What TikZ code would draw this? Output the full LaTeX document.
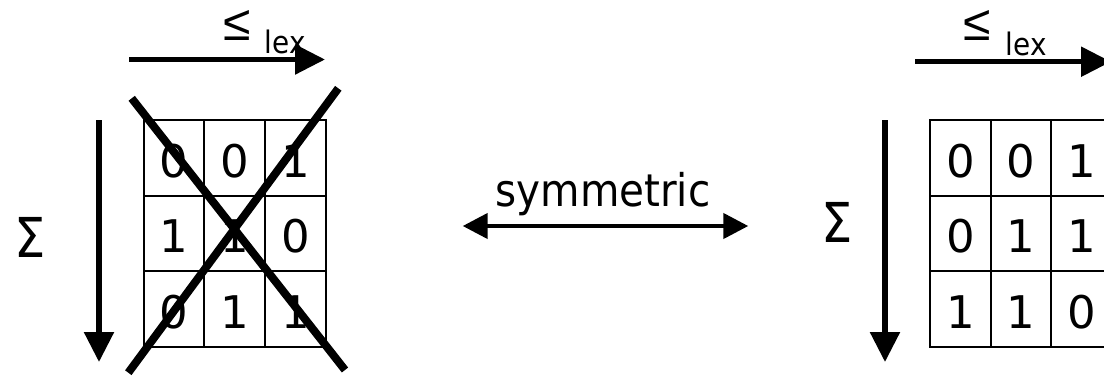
\documentclass[tikz,border=0pt]{standalone}
\usepackage{fontspec}
\setmainfont{DejaVu Sans}
\newfontfamily\narrow{DejaVu Sans}[FakeStretch=0.9]
\newfontfamily\arialish{Liberation Sans}
\usetikzlibrary{arrows.meta}
\tikzset{
  bigarrow/.style={line width=5.5pt, -{Triangle[length=30pt,width=29pt]}},
  symarrow/.style={line width=4.3pt, {Triangle[length=25pt,width=25pt]}-{Triangle[length=25pt,width=25pt]}},
  crossline/.style={line width=8pt},
  cell/.style={draw, line width=2pt, inner sep=0pt, minimum width=60.7pt, minimum height=75.4pt,
    text height=39pt, text depth=0pt, font=\fontsize{45}{54}\selectfont},
  leq/.style={inner sep=0pt, anchor=base, font=\arialish\fontsize{50}{60}\selectfont},
  lex/.style={inner sep=0pt, anchor=base west, font=\narrow\fontsize{31}{37}\selectfont},
  sigma/.style={inner sep=0pt, anchor=base west, font=\narrow\fontsize{55}{66}\selectfont},
  lbl/.style={inner sep=0pt, anchor=base, font=\narrow\fontsize{45}{54}\selectfont},
}
\begin{document}
\begin{tikzpicture}[x=1pt, y=-1pt]
\clip (0,0) rectangle (1104,376);
\fill[white] (0,0) rectangle (1104,376);

% ---------- left matrix ----------
\foreach \r/\a/\b/\c [count=\i] in {0/0/0/1, 1/1/1/0, 2/0/1/1} {
  \node[cell] (L\i1) at (174, 158+75.4*\r) {\a};
  \node[cell] (L\i2) at (234.7, 158+75.4*\r) {\b};
  \node[cell] (L\i3) at (295.4, 158+75.4*\r) {\c};
}
% top arrow and label
\coordinate (LTs) at (129.3,59.5);
\coordinate (LTe) at (325,59.5);
\draw[bigarrow] (LTs) -- (LTe);
\node[leq] (Lleq) at (237,40.5) {≤};
\node[lex] (Llex) at (264.5,53.3) {lex};
% left down arrow and sigma
\coordinate (LDs) at (99,120);
\coordinate (LDe) at (99,362);
\draw[bigarrow] (LDs) -- (LDe);
\node[sigma] (Lsig) at (14,257) {Σ};
% cross
\coordinate (X1a) at (131.7,98.3);
\coordinate (X1b) at (345,370);
\coordinate (X2a) at (338.3,88.3);
\coordinate (X2b) at (128.3,372.7);
\draw[crossline] (X1a) -- (X1b);
\draw[crossline] (X2a) -- (X2b);

% ---------- symmetric arrow ----------
\coordinate (Sa) at (462.7,226);
\coordinate (Sb) at (748.3,226);
\draw[symarrow] (Sa) -- (Sb);
\node[lbl] (sym) at (603,206.7) {symmetric};

% ---------- right matrix ----------
\foreach \r/\a/\b/\c [count=\i] in {0/0/0/1, 1/0/1/1, 2/1/1/0} {
  \node[cell] (R\i1) at (960.5, 158+75.4*\r) {\a};
  \node[cell] (R\i2) at (1021, 158+75.4*\r) {\b};
  \node[cell] (R\i3) at (1081.5, 158+75.4*\r) {\c};
}
\coordinate (RTs) at (915,61.7);
\coordinate (RTe) at (1111,61.7);
\draw[bigarrow] (RTs) -- (RTe);
\node[leq] (Rleq) at (977.5,40.5) {≤};
\node[lex] (Rlex) at (1005.5,55) {lex};
\coordinate (RDs) at (885,120);
\coordinate (RDe) at (885,362);
\draw[bigarrow] (RDs) -- (RDe);
\node[sigma] (Rsig) at (821.7,242.7) {Σ};
\end{tikzpicture}
\end{document}
